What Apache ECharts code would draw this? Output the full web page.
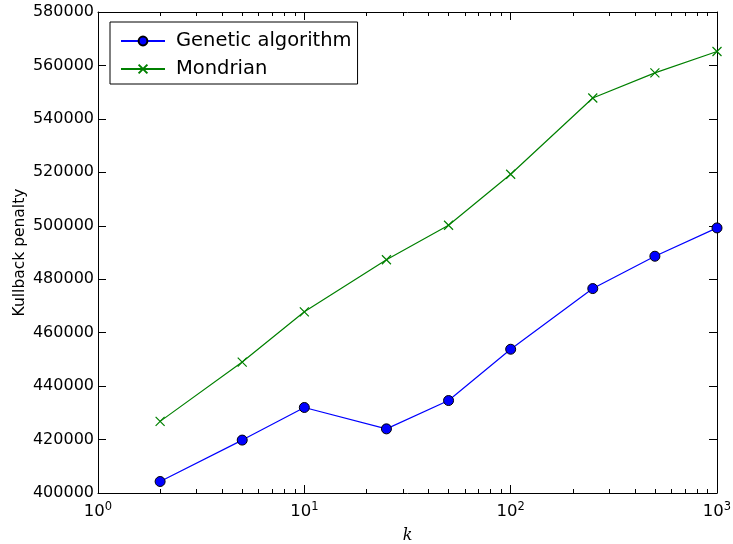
<!DOCTYPE html>
<html>
<head>
<meta charset="utf-8">
<script src="https://cdn.jsdelivr.net/npm/echarts@6/dist/echarts.min.js"></script>
<style>
  html, body { margin: 0; padding: 0; background: #fff; }
  #chart { width: 733px; height: 544px; }
</style>
</head>
<body>
<div id="chart"></div>
<script>
// valores de k (escala log) y penalizaciones
const kValues = [2, 5, 10, 25, 50, 100, 250, 500, 1000];
const geneticValues = [404300, 419800, 432000, 424000, 434600, 453800, 476500, 488600, 499200];
const mondrianValues = [426800, 449000, 467800, 487300, 500200, 519300, 547800, 557200, 565200];
const minorTickValues = [2, 3, 4, 5, 6, 7, 8, 9, 20, 30, 40, 50, 60, 70, 80, 90, 200, 300, 400, 500, 600, 700, 800, 900];

const FONT = 'DejaVu Sans';
const chart = echarts.init(document.getElementById('chart'));

function logAxis(position, opts) {
    return Object.assign({
        type: 'log',
        logBase: 10,
        min: 1,
        max: 1000,
        position: position,
        axisLine: { show: true, onZero: false, lineStyle: { color: '#000', width: 1 } },
        axisTick: { show: true, inside: true, length: 8, lineStyle: { color: '#000' } },
        axisLabel: { show: false },
        splitLine: { show: false },
        minorTick: { show: false }
    }, opts);
}

function valueAxis(position, opts) {
    return Object.assign({
        type: 'value',
        min: 400000,
        max: 580000,
        interval: 20000,
        position: position,
        axisLine: { show: true, onZero: false, lineStyle: { color: '#000', width: 1 } },
        axisTick: { show: true, inside: true, length: 8, lineStyle: { color: '#000' } },
        axisLabel: { show: false },
        splitLine: { show: false }
    }, opts);
}

const option = {
    animation: false,
    backgroundColor: '#fff',
    textStyle: { fontFamily: FONT },
    grid: { left: 98, right: 16, top: 12, bottom: 51, containLabel: false, outerBoundsMode: 'none' },
    legend: {
        orient: 'vertical',
        left: 110,
        top: 22,
        padding: [9, 6, 5, 10],
        itemGap: 8,
        itemWidth: 44,
        itemHeight: 11,
        borderColor: '#000',
        borderWidth: 1,
        borderRadius: 0,
        textStyle: { fontFamily: FONT, fontSize: 19.5, color: '#000', padding: [0, 0, 0, 6] },
        data: ['Genetic algorithm', 'Mondrian']
    },
    xAxis: [
        logAxis('bottom', {
            name: 'k',
            nameLocation: 'middle',
            nameGap: 35,
            nameMoveOverlap: false,
            nameTextStyle: { fontFamily: 'DejaVu Serif', fontStyle: 'italic', fontSize: 16, color: '#000' },
            axisLabel: {
                show: true,
                color: '#000',
                fontFamily: FONT,
                fontSize: 16.5,
                margin: 8,
                formatter: v => '10{sup|' + Math.round(Math.log10(v)) + '}',
                rich: { sup: { fontSize: 11.5, fontFamily: FONT, color: '#000', verticalAlign: 'top', padding: [0, 0, 10, 0] } }
            }
        }),
        logAxis('bottom', {
            axisLine: { show: false },
            axisTick: { show: true, inside: true, length: 4, lineStyle: { color: '#000' }, customValues: minorTickValues }
        }),
        logAxis('top', {}),
        logAxis('top', {
            axisLine: { show: false },
            axisTick: { show: true, inside: true, length: 4, lineStyle: { color: '#000' }, customValues: minorTickValues }
        })
    ],
    yAxis: [
        valueAxis('left', {
            name: 'Kullback penalty',
            nameLocation: 'middle',
            nameGap: 70,
            nameMoveOverlap: false,
            nameTextStyle: { fontFamily: FONT, fontSize: 15.5, color: '#000' },
            axisLabel: {
                show: true,
                color: '#000',
                fontFamily: FONT,
                fontSize: 16,
                margin: 4,
                formatter: v => String(v)
            }
        }),
        valueAxis('right', {})
    ],
    series: [
        {
            name: 'Genetic algorithm',
            type: 'line',
            xAxisIndex: 0,
            yAxisIndex: 0,
            data: kValues.map((k, i) => [k, geneticValues[i]]),
            symbol: 'circle',
            symbolSize: 10,
            lineStyle: { color: '#0000ff', width: 1.2 },
            itemStyle: { color: '#0000ff', borderColor: '#000', borderWidth: 1 },
            z: 3
        },
        {
            name: 'Mondrian',
            type: 'line',
            xAxisIndex: 0,
            yAxisIndex: 0,
            data: kValues.map((k, i) => [k, mondrianValues[i]]),
            symbol: 'path://M0,0L10,10M10,0L0,10',
            symbolSize: 9,
            lineStyle: { color: '#008000', width: 1.2 },
            itemStyle: { color: '#008000', borderColor: '#008000', borderWidth: 1.2 },
            z: 3
        }
    ]
};

chart.setOption(option);
</script>
</body>
</html>
